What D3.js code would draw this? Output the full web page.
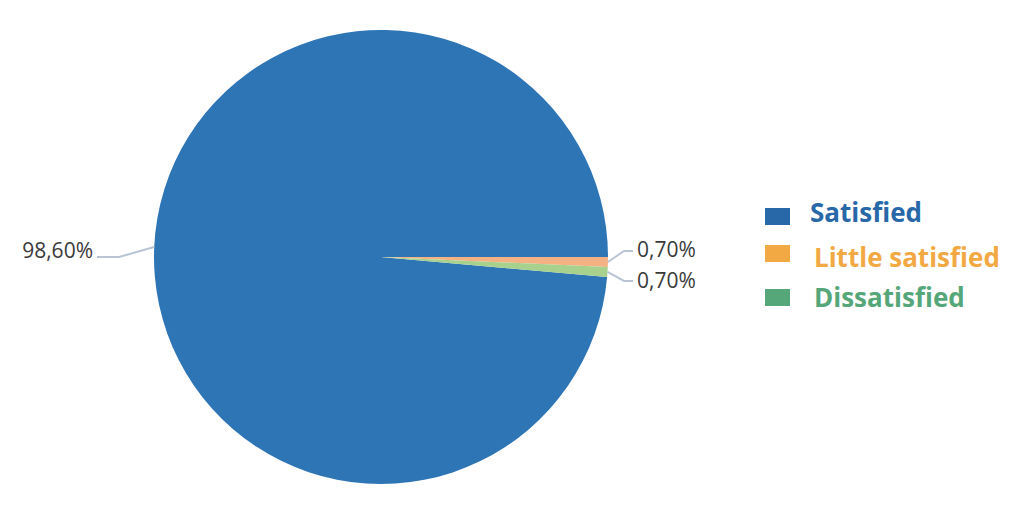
<!DOCTYPE html>
<html>
<head>
<meta charset="utf-8">
<script src="https://cdn.jsdelivr.net/npm/d3@7"></script>
<style>
  body { margin: 0; background: #fff; }
  text { font-variant-ligatures: none; }
</style>
</head>
<body>
<div id="chart"></div>
<script>
// data
const categories = ["Satisfied", "Little satisfied", "Dissatisfied"];
const values = [98.6, 0.7, 0.7];
const valueLabels = ["98,60%", "0,70%", "0,70%"];
const sliceColors = ["#2E75B6", "#F4B183", "#A9D18E"];
const legendColors = ["#2868A8", "#F2A944", "#55A77A"];

const width = 1024, height = 505;
const cx = 381, cy = 257, radius = 227;

const svg = d3.select("#chart")
    .append("svg")
    .attr("width", width)
    .attr("height", height);

const g = svg.append("g")
    .attr("transform", `translate(${cx},${cy})`);

// first slice ends at 3 o'clock, the small ones follow clockwise
const start = Math.PI / 2 - values[0] / d3.sum(values) * 2 * Math.PI;
const pie = d3.pie()
    .sort(null)
    .startAngle(start)
    .endAngle(start + 2 * Math.PI)
    .value(d => d);

const arcs = pie(values);
const arc = d3.arc().innerRadius(0).outerRadius(radius);

g.selectAll("path.slice")
    .data(arcs)
    .enter()
    .append("path")
    .attr("class", "slice")
    .attr("d", arc)
    .attr("fill", (d, i) => sliceColors[i]);

// labels with leader lines
const labelPos = [
    { elbow: [-262, 0], end: [-284, 0], anchor: "end", dy: -6 },
    { elbow: [243, -6], end: [252, -6], anchor: "start", dy: -7 },
    { elbow: [243, 24], end: [252, 24], anchor: "start", dy: 24 }
];

arcs.forEach((d, i) => {
    const a = (d.startAngle + d.endAngle) / 2;
    const p0 = [Math.sin(a) * radius, -Math.cos(a) * radius];
    const lp = labelPos[i];
    g.append("polyline")
        .attr("points", [p0, lp.elbow, lp.end].map(p => p.join(",")).join(" "))
        .attr("fill", "none")
        .attr("stroke", "#B8C4D4")
        .attr("stroke-width", 2);
    g.append("text")
        .attr("x", lp.anchor === "end" ? lp.end[0] - 4 : lp.end[0] + 4)
        .attr("y", lp.dy)
        .attr("dy", "0.35em")
        .attr("text-anchor", lp.anchor)
        .style("font-family", "'Open Sans', sans-serif")
        .style("font-size", "21px")
        .style("fill", "#3a3a3a")
        .text(valueLabels[i]);
});

// legend
const legendY = [208, 245, 289];
const legend = svg.selectAll(".legend")
    .data(categories)
    .enter()
    .append("g")
    .attr("class", "legend")
    .attr("transform", (d, i) => `translate(765, ${legendY[i]})`);

legend.append("rect")
    .attr("width", 25)
    .attr("height", 17)
    .attr("fill", (d, i) => legendColors[i]);

legend.append("text")
    .attr("x", (d, i) => i === 0 ? 45 : 49)
    .attr("y", (d, i) => [14, 22, 18][i])
    .style("font-family", "'Open Sans', sans-serif")
    .style("font-weight", "bold")
    .style("font-size", "26px")
    .style("fill", (d, i) => legendColors[i])
    .text(d => d);
</script>
</body>
</html>
